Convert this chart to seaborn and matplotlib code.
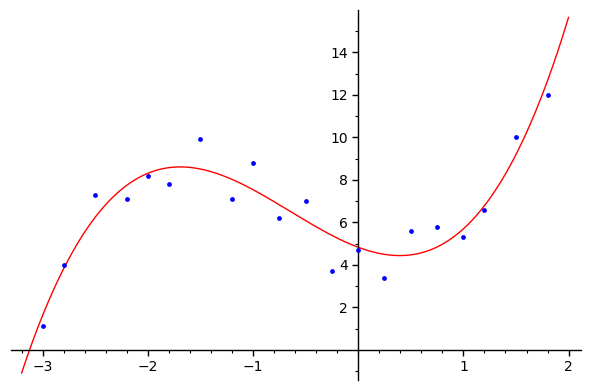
import numpy as np
import pandas as pd
import matplotlib
matplotlib.use("Agg")
import matplotlib.pyplot as plt
import seaborn as sns
from matplotlib.ticker import MultipleLocator

x_data = [-3.0, -2.8, -2.5, -2.2, -2.0, -1.8, -1.5, -1.2, -1.0, -0.75, -0.5,
          -0.25, 0.0, 0.25, 0.5, 0.75, 1.0, 1.2, 1.5, 1.8]
y_data = [1.1, 4.0, 7.3, 7.1, 8.2, 7.8, 9.9, 7.1, 8.8, 6.2, 7.0,
          3.7, 4.7, 3.4, 5.6, 5.8, 5.3, 6.6, 10.0, 12.0]

sns.set_style("white")
plt.rcParams['font.family'] = ['DejaVu Sans']

# cubic least-squares fit of the data (the red model curve)
coef = np.polyfit(x_data, y_data, 3)
xs = np.linspace(-3.2, 2.0, 400)
curve = pd.DataFrame({"x": xs, "y": np.polyval(coef, xs)})
pts = pd.DataFrame({"x": x_data, "y": y_data})

fig = plt.figure(figsize=(5.9, 3.9), dpi=100)
ax = fig.add_axes([10.5/590, 10/390, (581-10.5)/590, (380-10)/390])

sns.lineplot(data=curve, x="x", y="y", ax=ax, color=(1, 0, 0), linewidth=1.0)
sns.scatterplot(data=pts, x="x", y="y", ax=ax, color=(0, 0, 1), s=12,
                edgecolor=None, linewidth=0, zorder=3)

ax.set_xlim(-3.305, 2.118)
ax.set_ylim(-1.42, 15.99)
ax.set_xlabel("")
ax.set_ylabel("")

for s in ["top", "right"]:
    ax.spines[s].set_visible(False)
ax.spines["left"].set_position(("data", 0))
ax.spines["bottom"].set_position(("data", 0))
for s in ["left", "bottom"]:
    ax.spines[s].set_color("black")
    ax.spines[s].set_linewidth(1.0)

ax.xaxis.set_major_locator(MultipleLocator(1))
ax.xaxis.set_minor_locator(MultipleLocator(0.2))
ax.yaxis.set_major_locator(MultipleLocator(2))
ax.yaxis.set_minor_locator(MultipleLocator(1))
ax.set_yticks([2, 4, 6, 8, 10, 12, 14])
ax.set_xticks([-3, -2, -1, 1, 2])
ax.tick_params(which="major", direction="out", length=4, width=1, colors="black",
               labelsize=10, bottom=True, left=True)
ax.tick_params(which="minor", direction="out", length=2, width=0.8, colors="black",
               bottom=True, left=True)
ax.xaxis.set_ticks_position("bottom")
ax.yaxis.set_ticks_position("left")

fig.savefig("out.png", dpi=100)
